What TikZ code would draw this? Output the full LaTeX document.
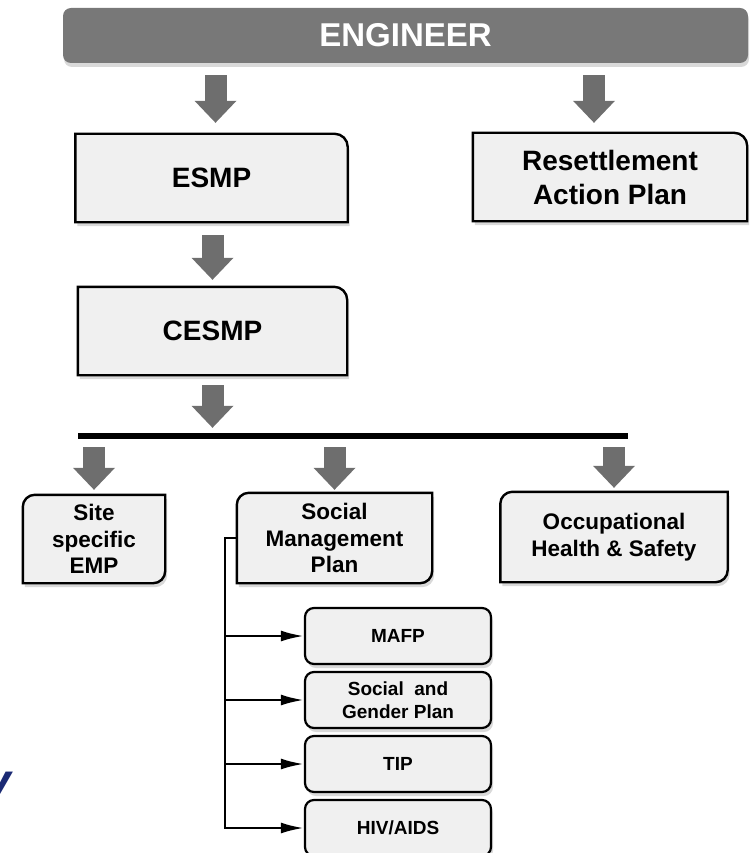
\documentclass[tikz,border=0pt]{standalone}
\usepackage{fontspec}
\setmainfont{Liberation Sans}
\usetikzlibrary{arrows.meta,shadows,backgrounds,calc}

\definecolor{boxfill}{HTML}{F0F0F0}
\definecolor{engfill}{HTML}{787878}
\definecolor{arrowgray}{HTML}{6E6E6E}
\definecolor{titlenavy}{HTML}{1B2A74}
\newcommand{\fs}[2]{\fontsize{#1}{#2}\selectfont\bfseries}

\begin{document}
\begin{tikzpicture}
	[x=1pt, y=-1pt,
	box/.style={rectangle, inner sep=0pt, align=center},
	outline/.style={draw=black, line width=2.4pt, fill=boxfill, drop shadow={opacity=0.3, shadow xshift=2pt, shadow yshift=-4pt}},
	subBox/.style={rectangle, rounded corners=9pt, draw=black, line width=2.2pt, fill=boxfill, minimum width=186pt, minimum height=56pt, inner sep=0pt, align=center, font=\fs{19}{23}, drop shadow={opacity=0.3, shadow xshift=2pt, shadow yshift=-4pt}},
	bigArrow/.style={line width=22pt, draw=arrowgray, -{Triangle[length=22pt, width=42pt, line width=0pt]}},
	branch/.style={line width=2.6pt, -{Latex[length=23pt, width=11pt]}}]
	
	\useasboundingbox (0,0) rectangle (750,853);
	
	% top bar
	\node (eng) at (405.5,35.5) [rectangle, rounded corners=8pt, fill=engfill, minimum width=685pt, minimum height=55pt, text=white, font=\fs{33}{40}, drop shadow={opacity=0.3, shadow xshift=1pt, shadow yshift=-4pt}] {ENGINEER};
	
	% plans
	\node (esmp) at (211.5,178) [box, minimum width=272pt, minimum height=88pt, font=\fs{28}{34}] {ESMP};
	\node (rap) at (610,177) [box, minimum width=274pt, minimum height=88pt, font=\fs{28}{34}] {Resettlement\\Action Plan};
	\node (cesmp) at (212.5,331) [box, minimum width=269pt, minimum height=88pt, font=\fs{28}{34}] {CESMP};
	
	% bus bar
	\node (bus) at (353,436) [rectangle, fill=black, inner sep=0pt, minimum width=550pt, minimum height=6pt] {};
	
	% lower row
	\node (site) at (94,539) [box, minimum width=142pt, minimum height=88pt, font=\fs{22.5}{26.5}] {Site\\specific\\EMP};
	\node (smp) at (334.5,538) [box, minimum width=195pt, minimum height=90pt, font=\fs{22.5}{26.5}] {Social\\Management\\Plan};
	\node (ohs) at (614,537) [box, minimum width=227pt, minimum height=90pt, font=\fs{22.5}{26.5}] {Occupational\\Health \& Safety};
	
	% social sub plans
	\node (mafp) at (398,636) [subBox] {MAFP};
	\node (sgp) at (398,700) [subBox] {Social~ and\\Gender Plan};
	\node (tip) at (398,764) [subBox] {TIP};
	\node (hiv) at (398,828) [subBox] {HIV/AIDS};
	
	% cut off title letter
	\node (tail) at (12,798) [anchor=base east, inner sep=0pt, text=titlenavy, font=\fontsize{50}{60}\selectfont\bfseries\itshape] {y};
	
	\begin{scope}[on background layer]
		\foreach \n in {esmp,rap,cesmp}
			\draw[outline] (\n.south west) -- (\n.north west) [rounded corners=13pt] -- (\n.north east) [sharp corners] -- (\n.south east) -- cycle;
		\foreach \n in {site,smp,ohs}
			\draw[outline] (\n.south west) [rounded corners=12pt] -- (\n.north west) [sharp corners] -- (\n.north east) [rounded corners=12pt] -- (\n.south east) [sharp corners] -- cycle;
	\end{scope}
	
	\draw[bigArrow, shorten <=12pt, shorten >=11pt] ($(eng.south -| esmp.north)+(4,0)$) -- ($(esmp.north)+(4,0)$);
	\draw[bigArrow, shorten <=12pt, shorten >=10pt] ($(eng.south -| rap.north)+(-16,0)$) -- ($(rap.north)+(-16,0)$);
	\draw[bigArrow, shorten <=13pt, shorten >=7pt] (esmp.south -| cesmp.north) -- (cesmp.north);
	\draw[bigArrow, shorten <=10pt, shorten >=5pt] (cesmp.south) -- (cesmp.south |- bus.north);
	\draw[bigArrow, shorten <=8pt, shorten >=5pt] (bus.south -| site.north) -- (site.north);
	\draw[bigArrow, shorten <=8pt, shorten >=3pt] (bus.south -| smp.north) -- (smp.north);
	\draw[bigArrow, shorten <=8pt, shorten >=4pt] (bus.south -| ohs.north) -- (ohs.north);
	
	\coordinate (spine) at ($(smp.west)+(-12,0)$);
	\draw[branch] (smp.west) -- (spine) |- (hiv.west);
	\foreach \n in {mafp,sgp,tip}
		\draw[branch] (spine |- \n.west) -- (\n.west);

\end{tikzpicture}
\end{document}
